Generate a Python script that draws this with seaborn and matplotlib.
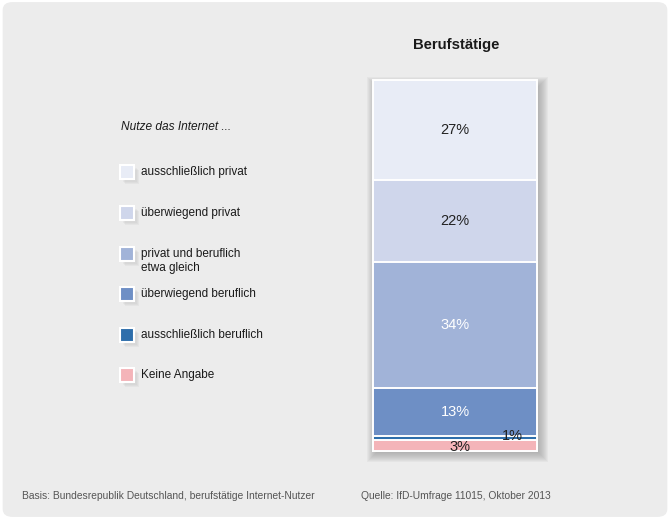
import numpy as np
import pandas as pd
import matplotlib
matplotlib.use('Agg')
import matplotlib.pyplot as plt
import seaborn as sns
from matplotlib.patches import FancyBboxPatch, Rectangle

# data, from the bottom of the stack to the top
categories = ['Keine Angabe', 'ausschließlich beruflich', 'überwiegend beruflich',
              'privat und beruflich\netwa gleich', 'überwiegend privat',
              'ausschließlich privat']
values = [3, 1, 13, 34, 22, 27]
colors = ['#f4b4b9', '#2e6eab', '#6e8fc5', '#a1b3d8', '#cfd6eb', '#e8ecf6']
label_colors = ['#222222', '#222222', 'white', 'white', '#222222', '#222222']
group = 'Berufstätige'
legend_title = 'Nutze das Internet ...'
basis = 'Basis: Bundesrepublik Deutschland, berufstätige Internet-Nutzer'
quelle = 'Quelle: IfD-Umfrage 11015, Oktober 2013'

sns.set_theme(style='white')
plt.rcParams['font.family'] = ['Liberation Sans', 'DejaVu Sans']

W, H = 670, 519
fig = plt.figure(figsize=(W / 100, H / 100), dpi=100)
fig.patch.set_facecolor('white')

# rounded grey panel
fig.patches.append(FancyBboxPatch((0.004, 0.004), 0.992, 0.992,
                                  boxstyle='round,pad=0,rounding_size=0.015',
                                  transform=fig.transFigure, facecolor='#ececec',
                                  edgecolor='none', zorder=0))


def px(x, y):
    return x / W, 1 - y / H


# soft shadow behind the bar
for k in range(10):
    x0, y1 = px(372 + 4 - k, 79 + 7 - k)
    x1, y0 = px(538 + 1 + k, 452 + 1 + k)
    fig.patches.append(Rectangle((x0, y0), x1 - x0, y1 - y0,
                                 transform=fig.transFigure, facecolor='#8c8c8c',
                                 edgecolor='none', alpha=0.075, zorder=0.5))

left, top = px(373, 80)
right, bottom = px(537, 451)
ax = fig.add_axes([left, bottom, right - left, top - bottom])
ax.set_facecolor('none')
ax.set_zorder(3)

cum = np.cumsum(values)
df = pd.DataFrame({'group': [group] * len(values), 'cum': cum,
                   'value': values, 'cat': categories})

# draw the cumulative bars from the tallest down so each covers the next
for i in range(len(values) - 1, -1, -1):
    sns.barplot(data=df.iloc[[i]], x='group', y='cum', color=colors[i],
                width=1.0, edgecolor='white', linewidth=1.4, ax=ax,
                saturation=1)
for p in ax.patches:
    p.set_clip_on(False)

ax.set_xlim(-0.5, 0.5)
ax.set_ylim(0, 100)
ax.axis('off')

starts = cum - np.array(values)
for i, v in enumerate(values):
    mid = starts[i] + v / 2
    if v >= 5:
        ax.text(0, mid, f'{v}%', ha='center', va='center', fontsize=10.5,
                color=label_colors[i])
ax.text(0.03, 1.2, '3%', ha='center', va='center', fontsize=10.5,
        color='#222222')
ax.text(0.35, 4.0, '1%', ha='center', va='center', fontsize=10.5,
        color='#222222')

fig.text(*px(456, 45), group, ha='center', va='center', fontsize=10.7,
         fontweight='bold', color='#1a1a1a')

fig.text(*px(121, 127), legend_title, ha='left', va='center', fontsize=8.6,
         style='italic', color='#1a1a1a')

legend_y = [172, 213, 254, 294, 335, 375]
for i, yy in enumerate(legend_y):
    idx = len(categories) - 1 - i
    for k in range(3):
        sx, sy = px(123 + k, yy - 4 + k)
        fig.patches.append(Rectangle((sx, sy - 14 / H), 14 / W, 14 / H,
                                     transform=fig.transFigure,
                                     facecolor='#b0b0b0', edgecolor='none',
                                     alpha=0.12, zorder=1))
    x0, y0 = px(120, yy + 7)
    fig.patches.append(Rectangle((x0, y0), 14 / W, 14 / H,
                                 transform=fig.transFigure,
                                 facecolor=colors[idx], edgecolor='white',
                                 linewidth=1.5, zorder=2))
    ty = yy + 7 if '\n' in categories[idx] else yy
    fig.text(*px(141, ty), categories[idx], ha='left', va='center',
             fontsize=8.5, color='#1a1a1a', linespacing=1.25)

fig.text(*px(22, 496), basis, ha='left', va='center', fontsize=7.4,
         color='#555555')
fig.text(*px(361, 496), quelle, ha='left', va='center', fontsize=7.4,
         color='#555555')

fig.savefig('out.png', dpi=100)
